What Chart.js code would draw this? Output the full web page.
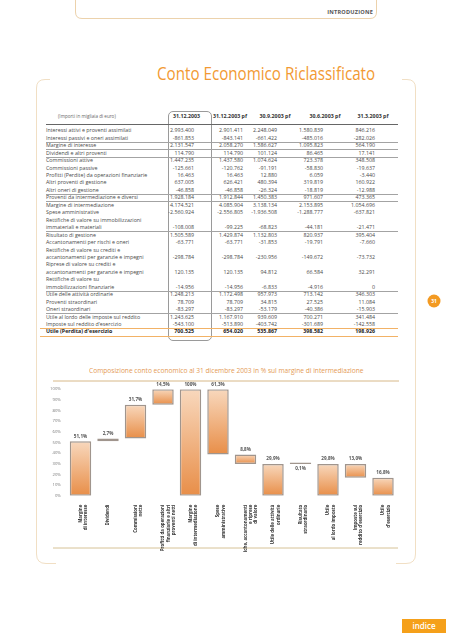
<!DOCTYPE html>
<html>
<head>
<meta charset="utf-8">
<script src="https://cdn.jsdelivr.net/npm/chart.js@4.4.0/dist/chart.umd.min.js"></script>
<style>
html, body { margin: 0; padding: 0; background: #fff; }
body { width: 453px; height: 640px; position: relative; overflow: hidden; font-family: "Open Sans", sans-serif; color: #444; }
.abs { position: absolute; white-space: nowrap; }
.cell { position: absolute; white-space: nowrap; font-size: 5.3px; line-height: 7.45px; height: 7.45px; }
.num { text-align: right; }
.hline { position: absolute; height: 0; }
</style>
</head>
<body>

<svg class="abs" style="left:0;top:0" width="453" height="640">
  <!-- header frame -->
  <path d="M75.5,0 V12 Q75.5,18.5 82,18.5 H370 Q376.5,18.5 376.5,12 V0" fill="none" stroke="#ecd2ac" stroke-width="1"/>
  <!-- page frame -->
  <path d="M50,79.5 H45 Q36.5,79.5 36.5,88 V554 Q36.5,563.5 46,563.5 H56" fill="none" stroke="#f1dfc4" stroke-width="1"/>
  <path d="M402,79.5 H407 Q415.5,79.5 415.5,88 V554 Q415.5,563.5 406,563.5 H396" fill="none" stroke="#f1dfc4" stroke-width="1"/>
  <!-- chart title rule and bottom rule -->
  <line x1="53" y1="381" x2="399" y2="381" stroke="#cda66a" stroke-width="0.8"/>
  <line x1="53" y1="548" x2="398" y2="548" stroke="#cbb27c" stroke-width="0.8"/>
  <!-- page number -->
  <circle cx="434" cy="301" r="6.5" fill="#f39a22"/>
  <text x="434" y="302.8" text-anchor="middle" font-family="Open Sans" font-weight="bold" font-size="5px" fill="#fff">31</text>
</svg>

<div class="abs" style="right:80px;top:8px;font-size:5.6px;font-weight:bold;color:#555;letter-spacing:0.2px;">INTRODUZIONE</div>
<div id="pageTitle" class="abs" style="left:157px;top:60px;font-size:19px;line-height:26px;color:#f29a33;transform-origin:left center;">Conto Economico Riclassificato</div>

<div class="abs" style="left:168px;top:111px;width:44px;height:230px;border:0.8px solid #9a9a9a;border-radius:5px;box-sizing:border-box;"></div>
<div id="table"></div>

<div id="chartTitle" class="abs" style="left:89px;top:366px;font-size:7px;line-height:10px;color:#e49a55;transform-origin:left center;">Composizione conto economico al 31 dicembre 2003 in % sul margine di intermediazione</div>

<div class="abs" style="left:40px;top:378px;width:365px;height:174px;">
  <canvas id="wfChart" width="365" height="174"></canvas>
</div>

<div class="abs" style="left:402px;top:619px;width:44px;height:14px;background:#f5a01a;color:#fff;font-size:8px;line-height:14px;text-align:center;font-weight:600;">indice</div>

<script>
// chart data (% of margine di intermediazione)
const categories = [
    ['Margine', 'di interesse'],
    ['Dividendi'],
    ['Commissioni', 'nette'],
    ['Profitti da operazioni', 'finanziarie e altri', 'proventi netti'],
    ['Margine', 'di intermediazione'],
    ['Spese', 'amministrative'],
    ['Rettifiche, accantonamenti', 'e riprese', 'di valore'],
    ['Utile delle attività', 'ordinarie'],
    ['Risultato', 'straordinario'],
    ['Utile', 'al lordo imposte'],
    ['Imposte sul', 'reddito d\'esercizio'],
    ['Utile', 'd\'esercizio']
];
const barStarts = [0, 51.1, 53.8, 85.5, 0, 38.7, 29.9, 0, 29.8, 0, 16.8, 0];
const barEnds = [51.1, 53.8, 85.5, 100, 100, 100, 38.7, 29.9, 29.9, 29.8, 29.8, 16.8];
const valueLabels = ['51,1%', '2,7%', '31,7%', '14,5%', '100%', '61,3%', '8,8%', '29,9%', '0,1%', '29,8%', '13,0%', '16,8%'];
const yMin = 0;
const yMax = 100;
const yStep = 10;

// table rows
const colHeaders = ['31.12.2003', '31.12.2003 pf', '30.9.2003 pf', '30.6.2003 pf', '31.3.2003 pf'];
const tableRows = [
    { label: ['Interessi attivi e proventi assimilati'], values: ['2.993.400', '2.901.411', '2.248.049', '1.580.839', '846.216'] },
    { label: ['Interessi passivi e oneri assimilati'], values: ['-861.853', '-843.141', '-661.422', '-485.016', '-282.026'] },
    { label: ['Margine di interesse'], values: ['2.131.547', '2.058.270', '1.586.627', '1.095.823', '564.190'], line: true },
    { label: ['Dividendi e altri proventi'], values: ['114.790', '114.790', '101.124', '86.465', '17.141'], line: true },
    { label: ['Commissioni attive'], values: ['1.447.235', '1.437.580', '1.074.624', '723.378', '348.508'], line: true },
    { label: ['Commissioni passive'], values: ['-125.661', '-120.762', '-91.191', '-58.830', '-19.637'] },
    { label: ['Profitti (Perdite) da operazioni finanziarie'], values: ['16.463', '16.463', '12.880', '6.059', '-3.440'] },
    { label: ['Altri proventi di gestione'], values: ['637.005', '626.421', '480.394', '319.819', '160.922'] },
    { label: ['Altri oneri di gestione'], values: ['-46.858', '-46.858', '-26.324', '-18.819', '-12.988'] },
    { label: ['Proventi da intermediazione e diversi'], values: ['1.928.184', '1.912.844', '1.450.383', '971.607', '473.365'], line: true },
    { label: ['Margine di intermediazione'], values: ['4.174.521', '4.085.904', '3.138.134', '2.153.895', '1.054.696'], line: true },
    { label: ['Spese amministrative'], values: ['-2.560.924', '-2.556.805', '-1.936.508', '-1.288.777', '-637.821'] },
    { label: ['Rettifiche di valore su immobilizzazioni', 'immateriali e materiali'], values: ['-108.008', '-99.225', '-68.823', '-44.181', '-21.471'] },
    { label: ['Risultato di gestione'], values: ['1.505.589', '1.429.874', '1.132.803', '820.937', '395.404'], line: true },
    { label: ['Accantonamenti per rischi e oneri'], values: ['-63.771', '-63.771', '-31.853', '-19.791', '-7.660'] },
    { label: ['Rettifiche di valore su crediti e', 'accantonamenti per garanzie e impegni'], values: ['-298.784', '-298.784', '-230.956', '-149.672', '-73.732'] },
    { label: ['Riprese di valore su crediti e', 'accantonamenti per garanzie e impegni'], values: ['120.135', '120.135', '94.812', '66.584', '32.291'] },
    { label: ['Rettifiche di valore su', 'immobilizzazioni finanziarie'], values: ['-14.956', '-14.956', '-6.833', '-4.916', '0'] },
    { label: ['Utile delle attività ordinarie'], values: ['1.248.213', '1.172.498', '957.973', '713.142', '346.303'], line: true },
    { label: ['Proventi straordinari'], values: ['78.709', '78.709', '34.815', '27.525', '11.084'] },
    { label: ['Oneri straordinari'], values: ['-83.297', '-83.297', '-53.179', '-40.386', '-15.903'] },
    { label: ['Utile al lordo delle imposte sul reddito'], values: ['1.243.625', '1.167.910', '939.609', '700.271', '341.484'], line: true },
    { label: ['Imposte sul reddito d\'esercizio'], values: ['-543.100', '-513.890', '-403.742', '-301.689', '-142.558'] },
    { label: ['Utile (Perdita) d\'esercizio'], values: ['700.525', '654.020', '535.867', '398.582', '198.926'], total: true }
];

function addEl(parent, cls, style, text) {
    const el = document.createElement('div');
    el.className = cls;
    Object.assign(el.style, style);
    if (text !== undefined) el.textContent = text;
    parent.appendChild(el);
    return el;
}

function fitWidth(id, w) {
    const el = document.getElementById(id);
    el.style.transform = `scaleX(${w / el.offsetWidth})`;
}

function buildTable() {
    const box = document.getElementById('table');
    const rowH = 7.45;
    const top0 = 127.3;
    const labelX = 46;
    const colRight = [194, 243, 277, 323, 375];
    const headCenter = [186.5, 230, 275, 325, 373];

    addEl(box, 'cell', { left: '58px', top: (117 - rowH / 2) + 'px', fontSize: '4.6px', color: '#666' }, '(Importi in migliaia di euro)');
    colHeaders.forEach((h, i) => {
        addEl(box, 'cell', { left: (headCenter[i] - 25) + 'px', width: '50px', textAlign: 'center', top: (117 - rowH / 2) + 'px', fontWeight: 'bold', color: '#333' }, h);
    });
    addEl(box, 'hline', { left: '46px', width: '352px', top: '123.5px', borderTop: '0.8px solid #666' });

    let line = 0;
    tableRows.forEach(row => {
        const y = top0 + line * rowH;
        if (row.line) addEl(box, 'hline', { left: '46px', width: '352px', top: (y - 0.4) + 'px', borderTop: '0.5px solid #a3a3a3' });
        if (row.total) {
            addEl(box, 'hline', { left: '40px', width: '358px', top: (y - 0.5) + 'px', borderTop: '1px solid #f2b266' });
            addEl(box, 'hline', { left: '40px', width: '358px', top: (y + rowH + 0.2) + 'px', borderTop: '1px solid #f2b266' });
        }
        const weight = row.total ? 'bold' : 'normal';
        const color = row.total ? '#222' : '#4a4a4a';
        row.label.forEach((t, k) => {
            addEl(box, 'cell', { left: labelX + 'px', top: (y + k * rowH) + 'px', fontWeight: weight, color: color }, t);
        });
        const vy = y + (row.label.length - 1) * rowH;
        row.values.forEach((v, i) => {
            addEl(box, 'cell num', { right: (453 - colRight[i]) + 'px', top: vy + 'px', fontWeight: weight, color: color }, v);
        });
        line += row.label.length;
    });
}

buildTable();
fitWidth('pageTitle', 218);
fitWidth('chartTitle', 274);

const valueLabelPlugin = {
    id: 'valueLabels',
    afterDatasetsDraw(chart) {
        const ctx = chart.ctx;
        const meta = chart.getDatasetMeta(0);
        ctx.save();
        ctx.font = 'bold 4.6px "Open Sans"';
        ctx.fillStyle = '#555';
        ctx.textAlign = 'center';
        ctx.textBaseline = 'middle';
        meta.data.forEach((bar, i) => {
            const top = Math.min(bar.y, bar.base);
            const bottom = Math.max(bar.y, bar.base);
            // the tiny extraordinary bar has its label underneath
            if (barEnds[i] - barStarts[i] < 0.5) {
                ctx.fillText(valueLabels[i], bar.x, bottom + 5);
            } else {
                ctx.fillText(valueLabels[i], bar.x, top - 5);
            }
        });
        ctx.restore();
    }
};

function barGradient(c) {
    const chart = c.chart;
    const y = chart.scales.y;
    if (!chart.chartArea || !y || !Array.isArray(c.raw)) return '#eea16a';
    const top = y.getPixelForValue(Math.max(c.raw[0], c.raw[1]));
    const bottom = y.getPixelForValue(Math.min(c.raw[0], c.raw[1]));
    if (bottom - top < 1) return '#9e948c';
    const g = chart.ctx.createLinearGradient(0, top, 0, bottom);
    g.addColorStop(0, '#f8d8bd');
    g.addColorStop(1, '#e88e48');
    return g;
}

new Chart(document.getElementById('wfChart').getContext('2d'), {
    type: 'bar',
    data: {
        labels: categories,
        datasets: [{
            data: barStarts.map((s, i) => [s, barEnds[i]]),
            backgroundColor: barGradient,
            borderColor: '#a0958d',
            borderWidth: 1.5,
            borderSkipped: false,
            minBarLength: 1.6,
            barPercentage: 0.78,
            categoryPercentage: 1
        }]
    },
    options: {
        responsive: false,
        animation: false,
        layout: { padding: { top: 11.3, right: 8.25, left: 0, bottom: 0 } },
        plugins: {
            legend: { display: false },
            tooltip: { enabled: false }
        },
        scales: {
            x: {
                grid: { display: false, drawTicks: false },
                border: { display: false },
                ticks: {
                    autoSkip: false,
                    minRotation: 90,
                    maxRotation: 90,
                    padding: 9,
                    color: '#333',
                    font: { family: 'Open Sans', size: 4.4, weight: 'bold' }
                },
                afterFit: s => { s.height = 56.3; }
            },
            y: {
                min: yMin,
                max: yMax,
                grid: { display: false, drawTicks: false },
                border: { display: false },
                ticks: {
                    stepSize: yStep,
                    padding: 6,
                    color: '#777',
                    font: { family: 'Open Sans', size: 4.2 },
                    callback: v => v + '%'
                },
                afterFit: s => { s.width = 26.75; }
            }
        }
    },
    plugins: [valueLabelPlugin]
});
</script>
</body>
</html>
